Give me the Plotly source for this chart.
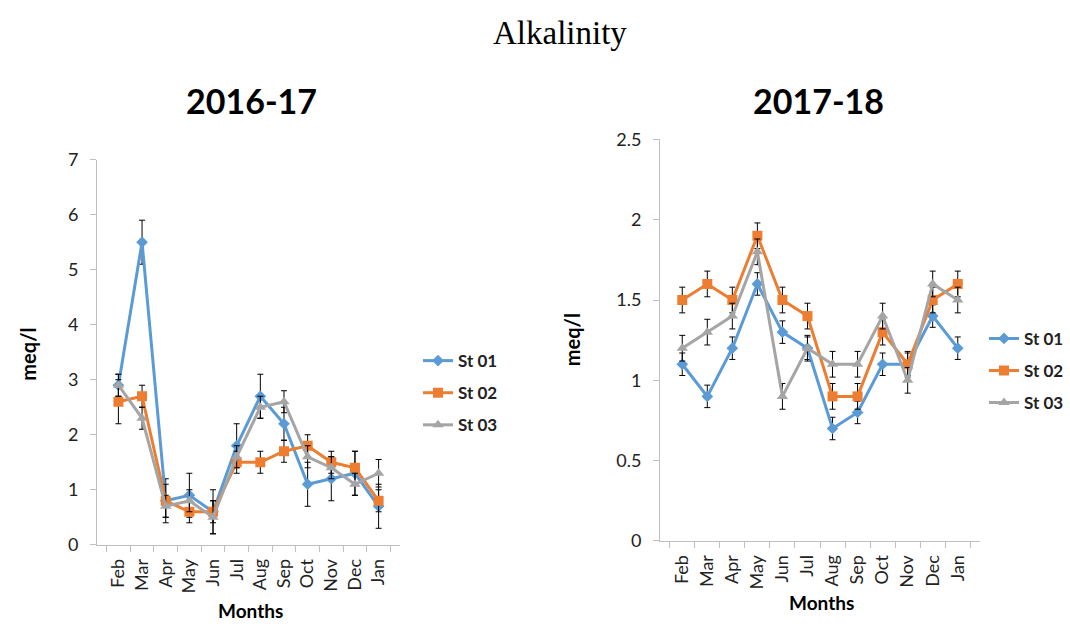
import plotly.graph_objects as go

months = ["Feb", "Mar", "Apr", "May", "Jun", "Jul", "Aug", "Sep", "Oct", "Nov", "Dec", "Jan"]
stations = ["St 01", "St 02", "St 03"]

# 2016-17 alkalinity (meq/l) and standard deviations
y1617_st01 = [2.9, 5.5, 0.8, 0.9, 0.6, 1.8, 2.7, 2.2, 1.1, 1.2, 1.3, 0.7]
y1617_st02 = [2.6, 2.7, 0.8, 0.6, 0.6, 1.5, 1.5, 1.7, 1.8, 1.5, 1.4, 0.8]
y1617_st03 = [2.9, 2.3, 0.7, 0.8, 0.5, 1.6, 2.5, 2.6, 1.6, 1.4, 1.1, 1.3]
e1617_st01 = [0.2, 0.4, 0.4, 0.4, 0.4, 0.4, 0.4, 0.3, 0.4, 0.4, 0.4, 0.4]
e1617_st02 = [0.4, 0.2, 0.3, 0.2, 0.2, 0.2, 0.2, 0.2, 0.2, 0.2, 0.3, 0.2]
e1617_st03 = [0.2, 0.2, 0.2, 0.2, 0.3, 0.2, 0.2, 0.2, 0.2, 0.2, 0.2, 0.25]

# 2017-18 alkalinity (meq/l) and standard deviations
y1718_st01 = [1.1, 0.9, 1.2, 1.6, 1.3, 1.2, 0.7, 0.8, 1.1, 1.1, 1.4, 1.2]
y1718_st02 = [1.5, 1.6, 1.5, 1.9, 1.5, 1.4, 0.9, 0.9, 1.3, 1.1, 1.5, 1.6]
y1718_st03 = [1.2, 1.3, 1.4, 1.8, 0.9, 1.2, 1.1, 1.1, 1.4, 1.0, 1.6, 1.5]
e1718_st01 = [0.07] * 12
e1718_st02 = [0.08] * 12
e1718_st03 = [0.08] * 12

colors = ["#5B9BD5", "#ED7D31", "#A5A5A5"]
symbols = ["diamond", "square", "triangle-up"]
msizes = [9, 10, 10]

W, H = 1070, 632
BODY = "Lato"
AXC = "#BFBFBF"


def px_x(p):
    return p / W


def px_y(p):
    return 1 - p / H


fig = go.Figure()

panels = [
    ("x", "y", "legend", "a", [y1617_st01, y1617_st02, y1617_st03], [e1617_st01, e1617_st02, e1617_st03]),
    ("x2", "y2", "legend2", "b", [y1718_st01, y1718_st02, y1718_st03], [e1718_st01, e1718_st02, e1718_st03]),
]

for xa, ya, lg, tag, series, errs in panels:
    for i, name in enumerate(stations):
        fig.add_trace(go.Scatter(
            x=months, y=series[i], name=name, mode="lines+markers",
            xaxis=xa, yaxis=ya, legend=lg, legendgroup=f"{tag}{i}",
            line=dict(color=colors[i], width=3),
            marker=dict(symbol=symbols[i], size=msizes[i], color=colors[i]),
            error_y=dict(type="data", array=errs[i], visible=True,
                         color="black", thickness=1, width=3),
        ))

axis_common = dict(showgrid=False, zeroline=False, showline=True, linecolor=AXC,
                   linewidth=1, ticks="outside", tickcolor=AXC, ticklen=6,
                   tickfont=dict(family=BODY, size=18, color="#222"))

legend_common = dict(xanchor="left", yanchor="top",
                     font=dict(family=BODY, size=17, color="#222", weight="bold"),
                     tracegroupgap=7, itemwidth=30, bgcolor="rgba(0,0,0,0)")

fig.update_layout(
    width=W, height=H,
    margin=dict(l=0, r=0, t=0, b=0),
    plot_bgcolor="white", paper_bgcolor="white",
    xaxis=dict(domain=[px_x(97), px_x(400)], anchor="y", type="category",
               tickson="boundaries", tickangle=-90, ticklabelstandoff=6, **axis_common),
    yaxis=dict(domain=[px_y(552), px_y(153)], anchor="x", range=[0, 7],
               dtick=1, ticklabelstandoff=8, **axis_common),
    xaxis2=dict(domain=[px_x(660), px_x(980)], anchor="y2", type="category",
                tickson="boundaries", tickangle=-90, ticklabelstandoff=6, **axis_common),
    yaxis2=dict(domain=[px_y(548), px_y(132)], anchor="x2", range=[0, 2.5],
                dtick=0.5, ticklabelstandoff=8, **axis_common),
    legend=dict(x=px_x(418), y=px_y(343), **legend_common),
    legend2=dict(x=px_x(984), y=px_y(320), **legend_common),
    showlegend=True,
)

annotations = [
    dict(text="Alkalinity", x=px_x(560), y=px_y(22), font=dict(family="Liberation Serif", size=33, color="black")),
    dict(text="<b>2016-17</b>", x=px_x(251), y=px_y(92), font=dict(family=BODY, size=34, color="black")),
    dict(text="<b>2017-18</b>", x=px_x(818), y=px_y(92), font=dict(family=BODY, size=34, color="black")),
    dict(text="<b>meq/l</b>", x=px_x(28), y=px_y(355), textangle=-90, font=dict(family=BODY, size=20, color="black")),
    dict(text="<b>meq/l</b>", x=px_x(572), y=px_y(340), textangle=-90, font=dict(family=BODY, size=20, color="black")),
    dict(text="<b>Months</b>", x=px_x(250), y=px_y(620), font=dict(family=BODY, size=19, color="black")),
    dict(text="<b>Months</b>", x=px_x(821), y=px_y(612), font=dict(family=BODY, size=19, color="black")),
]
for a in annotations:
    a.update(xref="paper", yref="paper", showarrow=False, xanchor="center", yanchor="middle")
fig.update_layout(annotations=annotations)

fig.write_html("out.html")
